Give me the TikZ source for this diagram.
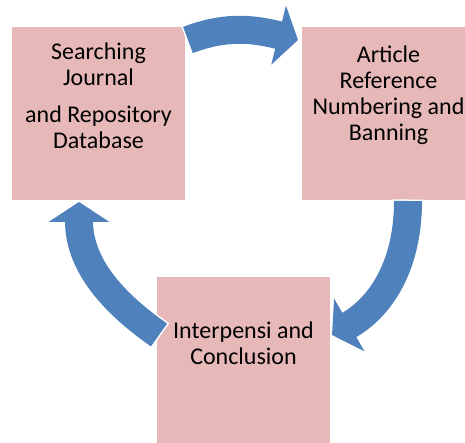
\documentclass[tikz,border=0pt]{standalone}
\usepackage{fontspec}
\setmainfont{Carlito}
\usetikzlibrary{arrows.meta}

\definecolor{boxpink}{HTML}{E6B9B8}
\definecolor{arrowblue}{HTML}{4F81BD}

\begin{document}
\begin{tikzpicture}[x=1pt, y=1pt,
  box/.style={fill=boxpink, minimum width=173pt, minimum height=173pt, inner sep=0pt},
  boxtext/.style={align=center, inner sep=0pt, font=\fontsize{24}{26}\selectfont},
  cyclearrow/.style={draw=arrowblue, line width=28pt, -{Triangle[width=60pt,length=20pt]},
    preaction={draw=white, line width=31pt, shorten <=-1.5pt, -{Triangle[width=66pt,length=22pt]}}}]

\useasboundingbox (0,0) rectangle (465,442);

% the three boxes
\node[box] (search) at (98.5,328.5) {};
\node[box] (article) at (388.5,328.5) {};
\node[box] (interp) at (243.5,78.5) {};

\node[boxtext] (searchtext) at ([yshift=18pt]search.center) {Searching\\Journal\\[11pt]and Repository\\Database};
\node[boxtext] (articletext) at ([yshift=18pt]article.center) {Article\\Reference\\Numbering and\\Banning};
\node[boxtext] (interptext) at ([yshift=20pt]interp.center) {Interpensi and\\Conclusion};

% ends of the cycle arrows
\coordinate (s1) at (188,402);
\coordinate (e1) at (298,402);
\coordinate (s2) at (408,241);
\coordinate (e2) at (332,107);
\coordinate (s3) at (159,107);
\coordinate (e3) at (79,240);

\draw[cyclearrow] (s1) to[out=21, in=166] (e1);
\draw[cyclearrow] (s2) to[out=-90, in=30] (e2);
\draw[cyclearrow] (s3) to[out=145, in=-90] (e3);

\end{tikzpicture}
\end{document}
